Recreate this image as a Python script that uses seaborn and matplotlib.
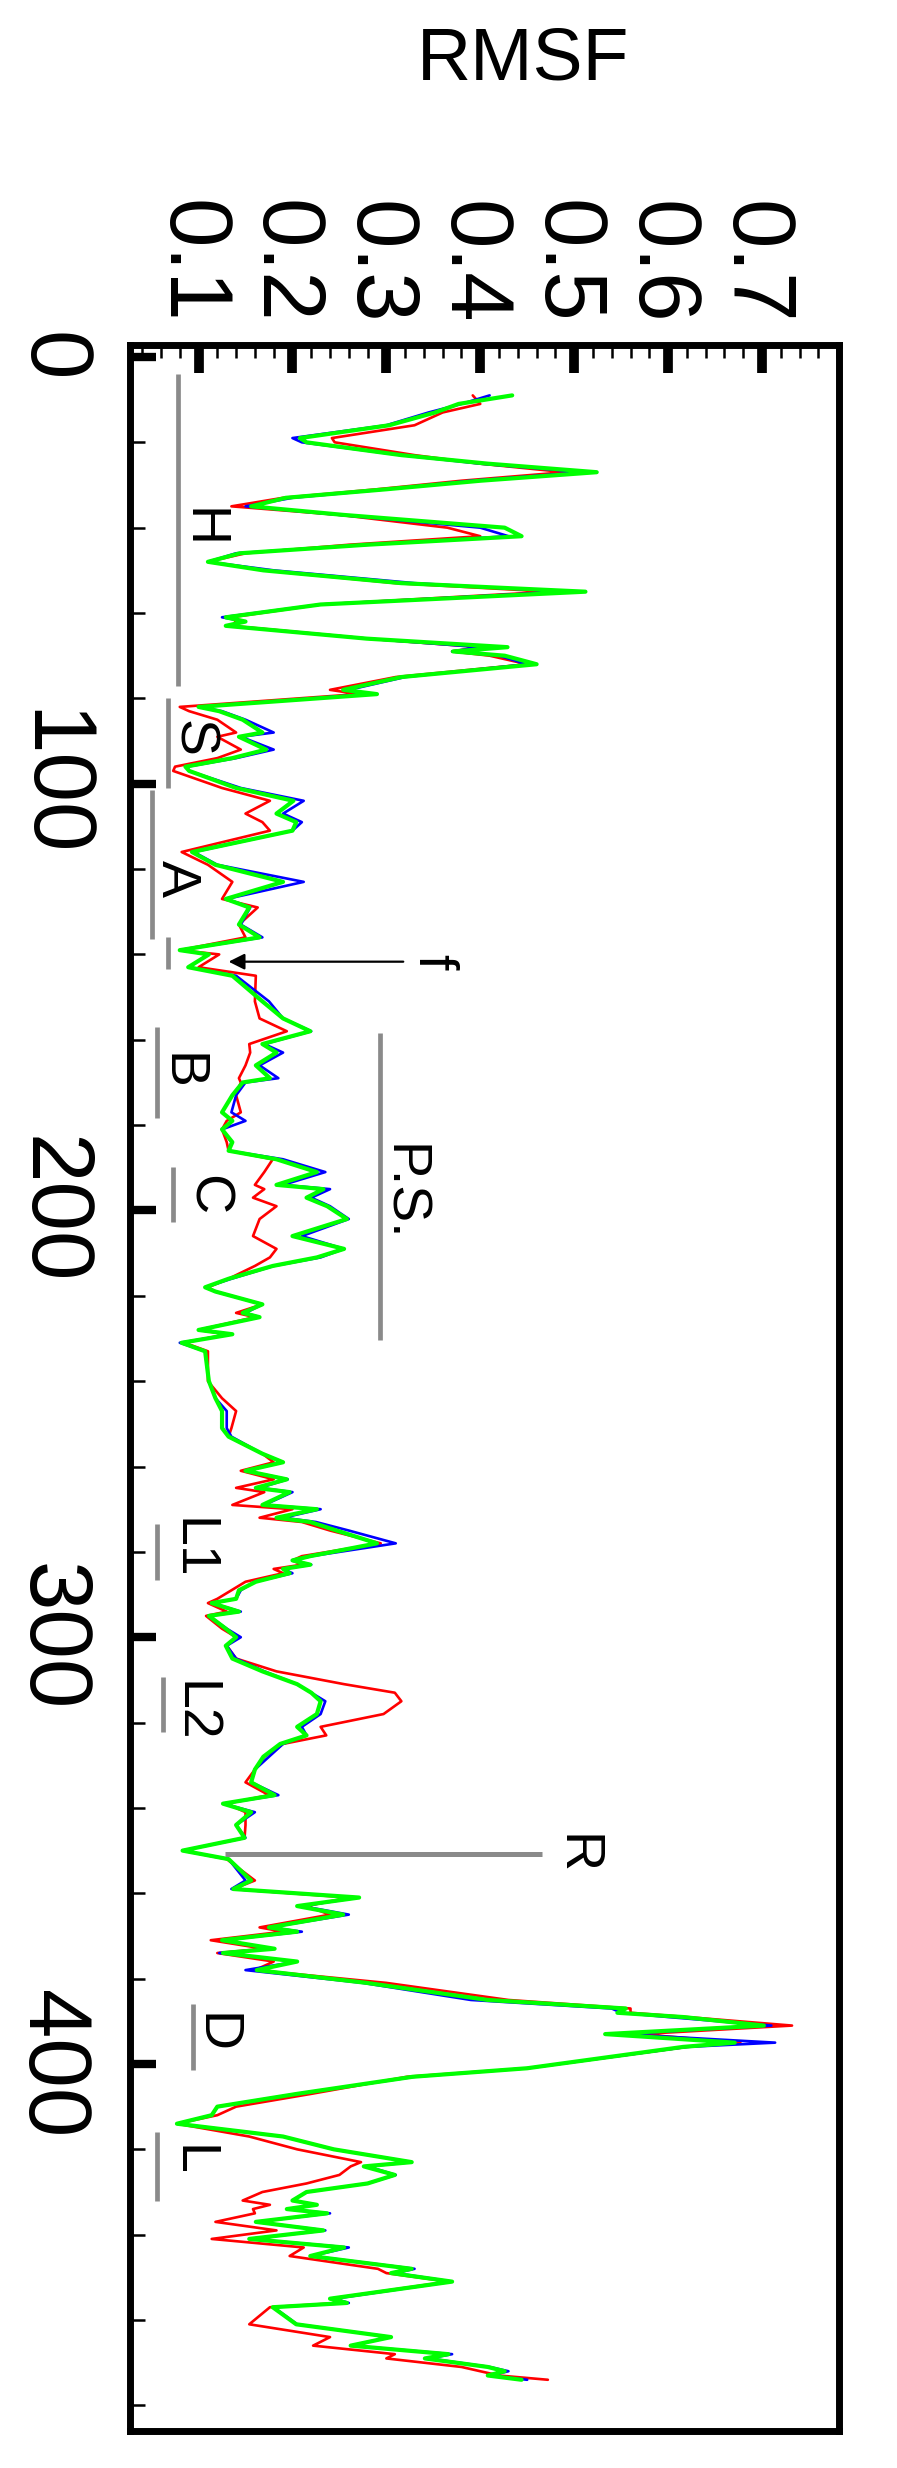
import matplotlib
matplotlib.use("Agg")
import matplotlib.pyplot as plt
from matplotlib.ticker import MultipleLocator
import seaborn as sns

# residue index along the chain (drawn top to bottom)
residue = [
    9, 11, 13, 16, 19, 20, 23, 25, 27, 29, 31, 33, 35, 37, 40, 42, 44, 46, 48, 50,
    53, 55, 58, 61, 62, 63, 66, 68, 69, 70, 72, 75, 78, 79, 82, 83, 85, 88, 89, 92,
    94, 96, 97, 101, 104, 107, 109, 111, 116, 119, 123, 127, 129, 133, 136, 139, 140, 143, 145, 151,
    155, 158, 161, 163, 166, 169, 170, 173, 177, 179, 181, 184, 186, 188, 191, 194, 195, 197, 199, 202,
    206, 209, 211, 213, 216, 218, 219, 222, 224, 225, 228, 229, 231, 233, 240, 244, 247, 251, 253, 257,
    259, 261, 263, 265, 266, 269, 270, 272, 273, 275, 278, 281, 282, 283, 284, 285, 287, 289, 291, 292,
    294, 295, 298, 300, 302, 305, 308, 311, 313, 315, 318, 321, 323, 325, 328, 331, 334, 337, 339, 341,
    344, 347, 350, 352, 357, 359, 361, 363, 365, 368, 369, 371, 373, 374, 376, 378, 381, 385, 387, 388,
    389, 391, 393, 395, 396, 401, 403, 407, 410, 412, 414, 417, 420, 423, 424, 426, 428, 430, 432, 433,
    434, 435, 437, 439, 441, 443, 445, 448, 449, 451, 455, 456, 457, 461, 464, 466, 468, 469, 471, 472,
    473, 474,
]

rmsf_red = [
    0.392, 0.400, 0.360, 0.330, 0.242, 0.245, 0.330, 0.400, 0.490, 0.380, 0.290, 0.190, 0.135, 0.250, 0.365, 0.400, 0.260, 0.150, 0.110, 0.170,
    0.310, 0.475, 0.230, 0.135, 0.140, 0.135, 0.280, 0.400, 0.370, 0.410, 0.450, 0.310, 0.240, 0.270, 0.080, 0.090, 0.120, 0.140, 0.120, 0.145,
    0.120, 0.075, 0.073, 0.125, 0.176, 0.150, 0.168, 0.176, 0.082, 0.110, 0.136, 0.125, 0.163, 0.143, 0.150, 0.080, 0.122, 0.100, 0.161, 0.160,
    0.165, 0.194, 0.154, 0.155, 0.150, 0.143, 0.145, 0.140, 0.145, 0.130, 0.125, 0.130, 0.132, 0.179, 0.170, 0.160, 0.170, 0.158, 0.183, 0.165,
    0.158, 0.183, 0.176, 0.160, 0.132, 0.110, 0.118, 0.168, 0.140, 0.160, 0.100, 0.130, 0.085, 0.110, 0.110, 0.125, 0.140, 0.135, 0.132, 0.168,
    0.180, 0.145, 0.180, 0.140, 0.170, 0.136, 0.200, 0.165, 0.210, 0.240, 0.294, 0.210, 0.200, 0.210, 0.180, 0.190, 0.150, 0.135, 0.120, 0.110,
    0.130, 0.108, 0.125, 0.140, 0.130, 0.140, 0.183, 0.255, 0.309, 0.316, 0.297, 0.230, 0.236, 0.190, 0.170, 0.160, 0.150, 0.175, 0.130, 0.150,
    0.150, 0.149, 0.083, 0.130, 0.160, 0.137, 0.260, 0.215, 0.240, 0.165, 0.190, 0.113, 0.170, 0.120, 0.180, 0.160, 0.300, 0.430, 0.560, 0.560,
    0.620, 0.732, 0.570, 0.677, 0.620, 0.450, 0.322, 0.220, 0.140, 0.120, 0.077, 0.154, 0.205, 0.273, 0.262, 0.250, 0.215, 0.168, 0.147, 0.176,
    0.158, 0.160, 0.118, 0.183, 0.114, 0.212, 0.197, 0.291, 0.300, 0.366, 0.240, 0.250, 0.176, 0.154, 0.240, 0.222, 0.309, 0.300, 0.380, 0.400,
    0.420, 0.472,
]

rmsf_blue = [
    0.410, 0.380, 0.345, 0.300, 0.200, 0.210, 0.316, 0.400, 0.510, 0.390, 0.300, 0.200, 0.150, 0.250, 0.400, 0.430, 0.280, 0.140, 0.110, 0.180,
    0.330, 0.490, 0.230, 0.125, 0.150, 0.130, 0.280, 0.400, 0.370, 0.420, 0.450, 0.320, 0.260, 0.280, 0.100, 0.125, 0.150, 0.180, 0.145, 0.180,
    0.140, 0.088, 0.090, 0.145, 0.212, 0.190, 0.210, 0.200, 0.095, 0.120, 0.212, 0.130, 0.155, 0.145, 0.168, 0.080, 0.110, 0.090, 0.140, 0.175,
    0.190, 0.220, 0.170, 0.190, 0.165, 0.185, 0.150, 0.140, 0.135, 0.150, 0.125, 0.135, 0.132, 0.190, 0.235, 0.190, 0.240, 0.220, 0.240, 0.260,
    0.210, 0.255, 0.230, 0.180, 0.135, 0.107, 0.118, 0.168, 0.150, 0.165, 0.100, 0.136, 0.080, 0.107, 0.111, 0.118, 0.130, 0.130, 0.135, 0.168,
    0.190, 0.150, 0.195, 0.165, 0.200, 0.170, 0.230, 0.190, 0.225, 0.260, 0.310, 0.220, 0.200, 0.220, 0.190, 0.200, 0.160, 0.145, 0.140, 0.114,
    0.145, 0.111, 0.130, 0.145, 0.130, 0.140, 0.170, 0.205, 0.220, 0.235, 0.230, 0.210, 0.215, 0.190, 0.175, 0.160, 0.156, 0.185, 0.126, 0.160,
    0.140, 0.150, 0.083, 0.132, 0.150, 0.135, 0.270, 0.210, 0.260, 0.175, 0.210, 0.125, 0.180, 0.122, 0.205, 0.150, 0.275, 0.390, 0.540, 0.550,
    0.600, 0.710, 0.550, 0.714, 0.620, 0.450, 0.330, 0.205, 0.120, 0.114, 0.077, 0.190, 0.244, 0.327, 0.280, 0.310, 0.280, 0.215, 0.200, 0.226,
    0.194, 0.240, 0.161, 0.235, 0.154, 0.260, 0.220, 0.330, 0.310, 0.370, 0.245, 0.260, 0.180, 0.205, 0.305, 0.262, 0.370, 0.345, 0.410, 0.430,
    0.410, 0.450,
]

rmsf_green = [
    0.434, 0.377, 0.352, 0.303, 0.208, 0.215, 0.316, 0.408, 0.524, 0.400, 0.300, 0.193, 0.156, 0.254, 0.426, 0.444, 0.279, 0.144, 0.110, 0.169,
    0.316, 0.512, 0.230, 0.129, 0.150, 0.129, 0.279, 0.429, 0.371, 0.426, 0.460, 0.316, 0.254, 0.290, 0.100, 0.122, 0.147, 0.168, 0.143, 0.172,
    0.136, 0.086, 0.090, 0.140, 0.201, 0.183, 0.204, 0.200, 0.093, 0.118, 0.190, 0.129, 0.154, 0.143, 0.165, 0.080, 0.111, 0.089, 0.136, 0.168,
    0.190, 0.219, 0.168, 0.183, 0.161, 0.176, 0.147, 0.136, 0.125, 0.136, 0.125, 0.136, 0.132, 0.183, 0.226, 0.183, 0.233, 0.215, 0.237, 0.258,
    0.200, 0.255, 0.226, 0.179, 0.132, 0.107, 0.118, 0.168, 0.147, 0.165, 0.100, 0.136, 0.082, 0.107, 0.111, 0.118, 0.125, 0.125, 0.132, 0.168,
    0.190, 0.150, 0.194, 0.161, 0.197, 0.168, 0.226, 0.183, 0.219, 0.247, 0.290, 0.219, 0.200, 0.219, 0.190, 0.197, 0.161, 0.143, 0.140, 0.114,
    0.143, 0.111, 0.129, 0.140, 0.129, 0.136, 0.168, 0.205, 0.220, 0.230, 0.226, 0.205, 0.215, 0.187, 0.169, 0.160, 0.156, 0.181, 0.126, 0.156,
    0.140, 0.149, 0.083, 0.132, 0.156, 0.137, 0.271, 0.205, 0.254, 0.175, 0.205, 0.125, 0.181, 0.126, 0.205, 0.162, 0.279, 0.408, 0.555, 0.546,
    0.616, 0.702, 0.533, 0.671, 0.616, 0.450, 0.328, 0.205, 0.120, 0.114, 0.077, 0.190, 0.244, 0.327, 0.276, 0.309, 0.280, 0.215, 0.200, 0.226,
    0.194, 0.237, 0.161, 0.233, 0.154, 0.255, 0.219, 0.327, 0.305, 0.370, 0.240, 0.258, 0.179, 0.204, 0.305, 0.262, 0.366, 0.341, 0.408, 0.426,
    0.408, 0.444,
]

rmsf_ticks = [0.1, 0.2, 0.3, 0.4, 0.5, 0.6, 0.7]
residue_ticks = [0, 100, 200, 300, 400]

# structural regions: label, first residue, last residue, bar rmsf, label rmsf, label residue
regions = [
    ("H", 4, 77, 0.078, 0.110, 40),
    ("S", 80, 101, 0.0676, 0.0995, 89.3),
    ("A", 101.5, 136.3, 0.0507, 0.0824, 122.2),
    ("", 136, 143.5, 0.0676, None, None),
    ("B", 157, 178.4, 0.0561, 0.0874, 167.5),
    ("C", 189.8, 202.7, 0.073, 0.115, 196.4),
    ("P.S.", 158.5, 230.4, 0.2935, 0.323, 195.8),
    ("L1", 273.4, 286.7, 0.0561, 0.0993, 279.2),
    ("L2", 309.4, 322.2, 0.0622, 0.101, 317.5),
    ("D", 385.9, 401.5, 0.0946, 0.1235, 392.7),
    ("L", 416, 432, 0.0561, 0.099, 422.7),
]
r_residue, r_rmsf_from, r_rmsf_to, r_label_rmsf = 350.7, 0.128, 0.466, 0.508
f_residue, f_tip, f_tail, f_label_rmsf = 141.7, 0.132, 0.318, 0.355

sns.set_theme(style="white")
plt.rcParams["font.family"] = ["Liberation Sans", "DejaVu Sans"]
plt.rcParams["text.color"] = "black"

fig = plt.figure(figsize=(8.97, 24.68), dpi=100)
ax = fig.add_axes([0.1444, 0.015, 0.7904, 0.8452])

series = [(rmsf_red, "#ff0000", 1.9), (rmsf_blue, "#0000ff", 1.9), (rmsf_green, "#00ff00", 3.0)]
for values, color, width in series:
    sns.lineplot(x=values, y=residue, orient="y", sort=False, estimator=None,
                 color=color, linewidth=width, ax=ax)

ax.set_xlim(0.0265, 0.7815)
ax.set_ylim(486, -2.8)
ax.set_xlabel("")
ax.set_ylabel("")

for spine in ax.spines.values():
    spine.set_visible(True)
    spine.set_color("black")
    spine.set_linewidth(5)

ax.xaxis.tick_top()
ax.tick_params(axis="x", which="both", direction="in", top=True, bottom=False,
               labeltop=True, labelbottom=False, pad=15, color="black", labelcolor="black")
ax.tick_params(axis="y", which="both", direction="in", left=True, right=False,
               labelleft=True, pad=27, color="black", labelcolor="black")
ax.tick_params(axis="x", which="major", length=20, width=7)
ax.tick_params(axis="y", which="major", length=19, width=6)
ax.tick_params(axis="x", which="minor", length=9.5, width=1.8)
ax.tick_params(axis="y", which="minor", length=10.5, width=1.8)

ax.set_xticks(rmsf_ticks, [f"{t:.1f}" for t in rmsf_ticks], fontsize=64, rotation=-90,
              rotation_mode="anchor", ha="right", va="center_baseline", color="black")
ax.set_yticks(residue_ticks, [str(t) for t in residue_ticks], fontsize=64, rotation=-90,
              rotation_mode="anchor", ha="center", va="top", color="black")
ax.xaxis.set_minor_locator(MultipleLocator(0.02))
ax.yaxis.set_minor_locator(MultipleLocator(20))

gray = "#8a8a8a"
label_style = dict(fontsize=40, rotation=-90, rotation_mode="anchor",
                   ha="center", va="center_baseline", color="black")
for name, start, end, bar_x, text_x, text_y in regions:
    ax.vlines(bar_x, start, end, color=gray, linewidth=3.4)
    if name:
        ax.text(text_x, text_y, name, **label_style)

ax.hlines(r_residue, r_rmsf_from, r_rmsf_to, color=gray, linewidth=3.6)
ax.text(r_label_rmsf, r_residue, "R", **label_style)

ax.annotate("", xy=(f_tip, f_residue), xytext=(f_tail, f_residue),
            arrowprops=dict(arrowstyle="-|>", color="black", lw=1.6,
                            mutation_scale=24, shrinkA=0, shrinkB=0))
ax.text(f_label_rmsf, f_residue, "f", **label_style)

fig.text(523 / 897, 1 - 52 / 2468, "RMSF", fontsize=54, ha="center",
         va="center_baseline", color="black")

fig.savefig("out.png", dpi=100)
plt.close(fig)
